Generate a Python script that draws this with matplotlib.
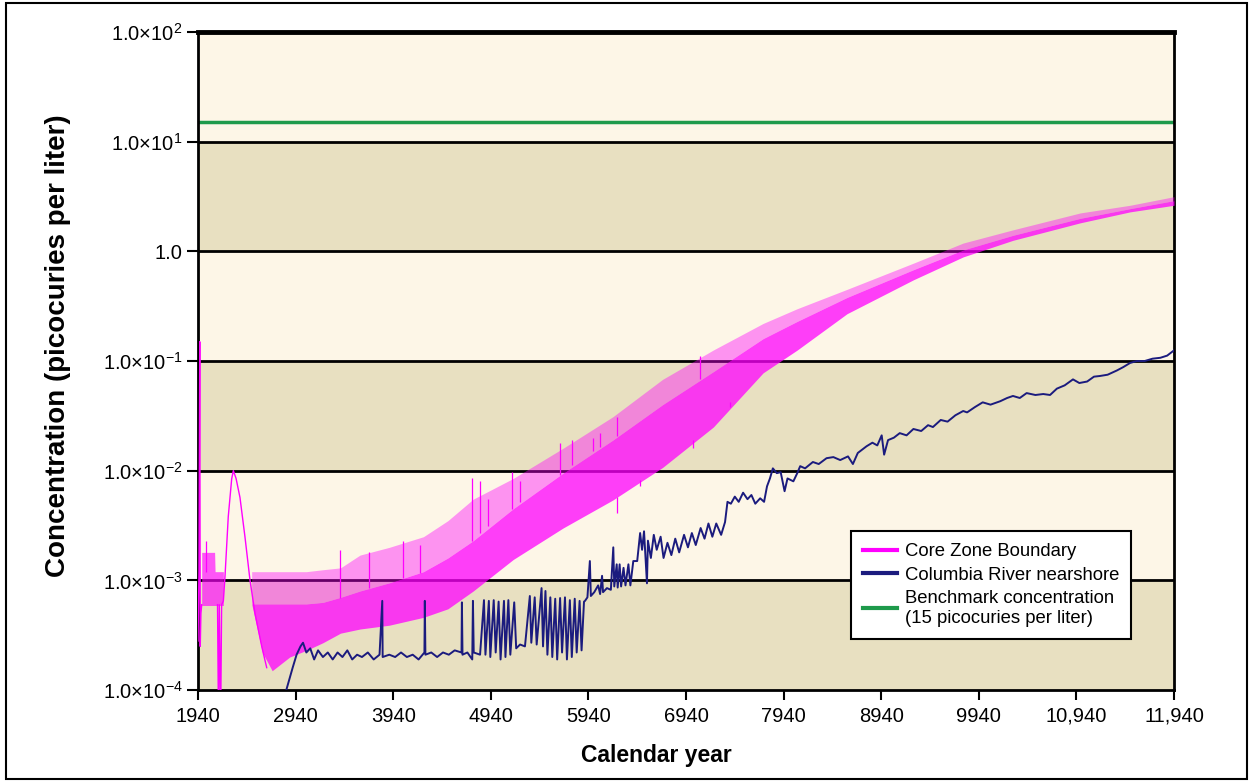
import matplotlib
matplotlib.use("Agg")
import matplotlib.pyplot as plt
import numpy as np
from matplotlib.lines import Line2D
from matplotlib.patches import Rectangle
from matplotlib.ticker import NullLocator

plt.rcParams['font.family'] = ['Liberation Sans', 'DejaVu Sans']
plt.rcParams['mathtext.fontset'] = 'custom'
plt.rcParams['mathtext.rm'] = 'Liberation Sans'
plt.rcParams['mathtext.it'] = 'Liberation Sans:italic'
plt.rcParams['mathtext.bf'] = 'Liberation Sans:bold'

# ---------------- data ----------------
x_ticks = [1940, 2940, 3940, 4940, 5940, 6940, 7940, 8940, 9940, 10940, 11940]
x_tick_labels = ['1940', '2940', '3940', '4940', '5940', '6940', '7940', '8940', '9940', '10,940', '11,940']
y_ticks = [1e-4, 1e-3, 1e-2, 1e-1, 1.0, 1e1, 1e2]
y_tick_labels = [r'$\mathrm{1.0×10}^{-4}$', r'$\mathrm{1.0×10}^{-3}$', r'$\mathrm{1.0×10}^{-2}$',
                 r'$\mathrm{1.0×10}^{-1}$', '1.0', r'$\mathrm{1.0×10}^{1}$', r'$\mathrm{1.0×10}^{2}$']

benchmark = 15.0

# Core Zone Boundary: early spike
pink_early_years = [1940, 1950, 1958, 1963, 1970, 1978]
pink_early_vals = [2.8e-4, 1.2e-3, 1.5e-1, 2.5e-4, 5e-4, 6e-4]
# early dense block
pink_block_years = [1978, 2110, 2115, 2200]
pink_block_low = [5.9e-4, 5.9e-4, 5.9e-4, 5.9e-4]
pink_block_high = [1.8e-3, 1.8e-3, 1.2e-3, 1.2e-3]
# drop and hump
pink_hump_years = [2140, 2150, 2158, 2172, 2182, 2200, 2217, 2250, 2285, 2302, 2330, 2370, 2421, 2473, 2524, 2593, 2644]
pink_hump_vals = [6e-4, 5e-5, 6e-4, 5e-5, 6e-4, 6.5e-4, 1.1e-3, 3.8e-3, 8.4e-3, 1.0e-2, 8.5e-3, 5.7e-3, 2.5e-3, 1.0e-3, 5e-4, 2.5e-4, 1.6e-4]
# main band (lower envelope, dense core upper edge, sparse spike upper edge)
pink_years = [2490, 2550, 2600, 2700, 2880, 3050, 3220, 3400, 3600, 3900, 4250, 4500, 4760, 5170,
              5680, 6190, 6700, 7220, 7730, 8080, 8590, 9270, 9780, 10290, 10980, 11490, 11940]
pink_low = [6.1e-4, 3.5e-4, 2.2e-4, 1.5e-4, 2.0e-4, 2.3e-4, 2.7e-4, 3.3e-4, 3.6e-4, 3.9e-4, 4.6e-4, 5.5e-4, 8e-4, 1.55e-3,
            3.0e-3, 5.4e-3, 1.07e-2, 2.5e-2, 7.8e-2, 0.126, 0.27, 0.55, 0.89, 1.26, 1.82, 2.29, 2.63]
pink_core = [6.1e-4, 6.1e-4, 6.1e-4, 6.1e-4, 6.1e-4, 6.1e-4, 6.3e-4, 7e-4, 8e-4, 9.5e-4, 1.2e-3, 1.6e-3, 2.3e-3, 4.5e-3,
             9.5e-3, 1.9e-2, 4.0e-2, 8.0e-2, 0.16, 0.23, 0.38, 0.68, 1.03, 1.40, 2.0, 2.45, 2.9]
pink_high = [1.2e-3, 1.2e-3, 1.2e-3, 1.2e-3, 1.2e-3, 1.2e-3, 1.25e-3, 1.3e-3, 1.7e-3, 2.0e-3, 2.5e-3, 3.5e-3, 5.5e-3, 8.5e-3,
             1.6e-2, 3.1e-2, 6.8e-2, 0.126, 0.22, 0.30, 0.45, 0.78, 1.19, 1.57, 2.24, 2.63, 3.15]
# isolated tall spikes
pink_spike_years = [2020, 3390, 3690, 4040, 4210, 4747, 4830, 4910, 5157, 5240, 5650, 5770, 5990, 6060, 6230, 7080]
pink_spike_tops = [2.3e-3, 1.9e-3, 1.8e-3, 2.3e-3, 2.1e-3, 8.6e-3, 8.0e-3, 5.5e-3, 9.7e-3, 8.0e-3, 1.8e-2, 1.9e-2, 2.0e-2, 2.2e-2, 3.1e-2, 0.11]
pink_dip_years = [6230, 6470, 7010, 7390]
pink_dip_bottoms = [4.1e-3, 7.2e-3, 1.6e-2, 3.8e-2]

# Columbia River nearshore
navy_years = [2830, 2870, 2910, 2950, 2990, 3016, 3050, 3090, 3130, 3170, 3220, 3270, 3320, 3370, 3420, 3470, 3520,
              3570, 3620, 3680, 3740, 3800, 3828, 3832, 3900, 3960, 4020, 4080, 4140, 4200, 4260, 4264, 4270,
              4330, 4390, 4450, 4510, 4570, 4640, 4644, 4650, 4700, 4750, 4757, 4765, 4830,
              4870, 4885, 4920, 4935, 4970, 4990, 5020, 5040, 5075, 5090, 5120, 5140, 5180, 5200, 5240, 5290,
              5340, 5355, 5390, 5410, 5460, 5475, 5500, 5520, 5550, 5570, 5600, 5620, 5650, 5670, 5700, 5720,
              5750, 5770, 5800, 5820, 5850, 5870, 5895, 5905, 5930, 5955, 5965, 6000, 6040, 6060, 6080, 6090,
              6130, 6170, 6195, 6205, 6230, 6240, 6260, 6275, 6300, 6320, 6350, 6370, 6400, 6440, 6470, 6490,
              6510, 6540, 6550, 6580, 6610, 6640, 6680, 6710, 6750, 6790, 6830, 6870, 6920, 6960, 7000, 7040,
              7090, 7130, 7170, 7210, 7250, 7300, 7340, 7365, 7400, 7440, 7480, 7525, 7570, 7610, 7650, 7700,
              7740, 7770, 7800, 7830, 7870, 7910, 7950, 7980, 8040, 8080, 8110, 8160, 8240, 8300, 8380, 8450,
              8520, 8600, 8650, 8700, 8790, 8850, 8900, 8945, 8970, 9010, 9070, 9130, 9200, 9270, 9350, 9420,
              9470, 9550, 9620, 9700, 9780, 9820, 9900, 9980, 10060, 10160, 10230, 10290, 10360, 10430, 10520,
              10600, 10670, 10740, 10820, 10905, 10970, 11050, 11120, 11180, 11260, 11355, 11420, 11490, 11560,
              11640, 11720, 11800, 11870, 11940]
navy_vals = [9e-5, 1.2e-4, 1.6e-4, 2.1e-4, 2.5e-4, 2.7e-4, 2.2e-4, 2.4e-4, 1.9e-4, 2.3e-4, 2.0e-4, 2.2e-4, 1.9e-4, 2.2e-4, 2.0e-4, 2.3e-4, 1.9e-4,
             2.1e-4, 2.0e-4, 2.2e-4, 1.9e-4, 2.1e-4, 6.5e-4, 2.0e-4, 2.1e-4, 2.0e-4, 2.2e-4, 2.0e-4, 2.1e-4, 1.9e-4, 2.2e-4, 6.5e-4, 2.1e-4,
             2.2e-4, 2.0e-4, 2.2e-4, 2.1e-4, 2.3e-4, 2.2e-4, 6.3e-4, 2.1e-4, 2.2e-4, 1.9e-4, 6.5e-4, 2.2e-4, 2.1e-4,
             6.6e-4, 2.1e-4, 6.5e-4, 2.0e-4, 6.6e-4, 2.2e-4, 6.4e-4, 1.9e-4, 6.5e-4, 2.0e-4, 6.6e-4, 2.1e-4, 6.3e-4, 2.4e-4, 2.6e-4, 2.5e-4,
             7.2e-4, 2.7e-4, 7.0e-4, 2.6e-4, 8.5e-4, 2.5e-4, 8.0e-4, 2.1e-4, 7.0e-4, 2.0e-4, 6.8e-4, 1.9e-4, 6.9e-4, 2.2e-4, 7.0e-4, 1.9e-4,
             6.6e-4, 2.0e-4, 6.8e-4, 2.2e-4, 6.5e-4, 2.3e-4, 6.4e-4, 6.5e-4, 7.0e-4, 1.5e-3, 7.2e-4, 7.8e-4, 9.0e-4, 7.5e-4, 1.1e-3, 7.8e-4,
             8.5e-4, 8.2e-4, 2.0e-3, 8.8e-4, 1.4e-3, 8.6e-4, 1.4e-3, 8.8e-4, 1.3e-3, 9.0e-4, 1.4e-3, 9.0e-4, 1.5e-3, 1.5e-3, 2.7e-3, 1.9e-3,
             2.8e-3, 9.4e-4, 2.3e-3, 1.6e-3, 2.6e-3, 1.9e-3, 2.5e-3, 1.6e-3, 2.2e-3, 1.7e-3, 2.4e-3, 1.8e-3, 2.6e-3, 2.0e-3, 2.7e-3, 2.1e-3,
             3.0e-3, 2.4e-3, 3.3e-3, 2.5e-3, 3.3e-3, 2.6e-3, 3.4e-3, 5.2e-3, 5.0e-3, 5.8e-3, 5.2e-3, 6.3e-3, 5.5e-3, 6.0e-3, 5.0e-3, 5.6e-3,
             5.2e-3, 7.2e-3, 8.5e-3, 1.05e-2, 9.5e-3, 9.7e-3, 6.5e-3, 8.5e-3, 8.0e-3, 9.5e-3, 1.1e-2, 1.05e-2, 1.2e-2, 1.15e-2, 1.3e-2, 1.33e-2,
             1.25e-2, 1.35e-2, 1.15e-2, 1.45e-2, 1.67e-2, 1.8e-2, 1.7e-2, 2.1e-2, 1.4e-2, 1.9e-2, 2.0e-2, 2.2e-2, 2.1e-2, 2.4e-2, 2.3e-2, 2.6e-2,
             2.5e-2, 2.9e-2, 2.8e-2, 3.2e-2, 3.5e-2, 3.4e-2, 3.8e-2, 4.2e-2, 4.0e-2, 4.3e-2, 4.6e-2, 4.8e-2, 4.6e-2, 5.1e-2, 4.9e-2,
             5.0e-2, 4.9e-2, 5.6e-2, 6.0e-2, 6.8e-2, 6.3e-2, 6.5e-2, 7.2e-2, 7.3e-2, 7.5e-2, 8.2e-2, 8.8e-2, 9.6e-2, 1.0e-1,
             1.0e-1, 1.05e-1, 1.07e-1, 1.12e-1, 1.25e-1]

legend_labels = ['Core Zone Boundary', 'Columbia River nearshore', 'Benchmark concentration\n(15 picocuries per liter)']

# ---------------- style ----------------
PINK = '#FF00FF'
NAVY = '#1B1B7E'
GREEN = '#1E9A4B'
CREAM = '#FDF6E7'
TAN = '#E8E0C1'

fig = plt.figure(figsize=(12.5, 7.82), dpi=100)
ax = fig.add_axes([0.1584, 0.1176, 0.7808, 0.8415])
ax.set_yscale('log')
ax.set_xlim(x_ticks[0], x_ticks[-1])
ax.set_ylim(y_ticks[0], y_ticks[-1])

for i in range(len(y_ticks) - 1):
    ax.axhspan(y_ticks[i], y_ticks[i + 1], color=TAN if i % 2 == 0 else CREAM, lw=0, zorder=0)
for yv in y_ticks[1:-1]:
    ax.axhline(yv, color='black', lw=2.0, zorder=1)

ax.axhline(benchmark, color=GREEN, lw=2.5, zorder=2)

# Core zone boundary
ax.plot(pink_early_years, pink_early_vals, color=PINK, lw=1.0, zorder=3)
ax.fill_between(pink_block_years, pink_block_low, pink_block_high, color=PINK, alpha=0.65, lw=0, zorder=3)
ax.plot(pink_hump_years, pink_hump_vals, color=PINK, lw=1.0, zorder=3)
ax.fill_between(pink_years, pink_low, pink_core, color=PINK, alpha=0.75, lw=0, zorder=3)
ax.fill_between(pink_years, pink_core, pink_high, color=PINK, alpha=0.4, lw=0, zorder=3)
ax.vlines(pink_spike_years, np.interp(pink_spike_years, pink_years, pink_core, left=1.2e-3),
          pink_spike_tops, color=PINK, lw=0.9, zorder=3)
ax.vlines(pink_dip_years, pink_dip_bottoms, np.interp(pink_dip_years, pink_years, pink_low),
          color=PINK, lw=0.9, zorder=3)

# Columbia River
ax.plot(navy_years, navy_vals, color=NAVY, lw=1.4, zorder=4)

# axes styling
for s in ['left', 'bottom', 'right']:
    ax.spines[s].set_linewidth(2.0)
ax.spines['top'].set_linewidth(3.5)
ax.yaxis.set_minor_locator(NullLocator())
ax.set_yticks(y_ticks)
ax.set_yticklabels(y_tick_labels)
ax.set_xticks(x_ticks)
ax.set_xticklabels(x_tick_labels)
ax.tick_params(axis='y', direction='out', length=8, width=1.5, labelsize=14.5, pad=3)
ax.tick_params(axis='x', direction='out', length=7, width=1.5, labelsize=14.5, pad=5)

ax.set_xlabel('Calendar year', fontsize=16.5, fontweight='bold')
ax.xaxis.set_label_coords(0.470, -0.099)
ax.xaxis.label.set_va('center')
ax.set_ylabel('Concentration (picocuries per liter)', fontsize=20, fontweight='bold')
ax.yaxis.set_label_coords(-0.143, 0.523)
ax.yaxis.label.set_va('center')

handles = [Line2D([], [], color=PINK, lw=3), Line2D([], [], color=NAVY, lw=3), Line2D([], [], color=GREEN, lw=3)]
leg = ax.legend(handles, legend_labels, loc='upper left', bbox_to_anchor=(0.669, 0.2416), borderaxespad=0,
                fontsize=13.3, frameon=True, fancybox=False, framealpha=1, edgecolor='black',
                handlelength=1.85, handletextpad=0.4, labelspacing=0.35, borderpad=0.65)
leg.get_frame().set_linewidth(1.5)
leg.set_zorder(10)

fig.patches.append(Rectangle((0.0048, 0.0038), 0.9928, 0.9924, transform=fig.transFigure,
                             fill=False, edgecolor='black', lw=1.5))

fig.savefig('out.png', dpi=100)
